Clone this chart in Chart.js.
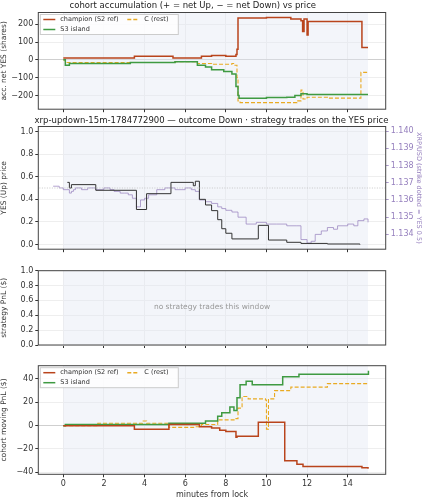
<!DOCTYPE html>
<html>
<head>
<meta charset="utf-8">
<script src="https://cdn.jsdelivr.net/npm/chart.js@4"></script>
<style>
  body { margin: 0; background: #fff; }
  .panel { position: absolute; left: 0; width: 423px; }
</style>
</head>
<body>
<div class="panel" style="top:0;height:116px"><canvas id="c1"></canvas></div>
<div class="panel" style="top:116px;height:140px"><canvas id="c2"></canvas></div>
<div class="panel" style="top:256px;height:96px"><canvas id="c3"></canvas></div>
<div class="panel" style="top:352px;height:148px"><canvas id="c4"></canvas></div>
<script>
// panel 1: accumulated net YES shares
const accChampT = [0, 3.5, 5.4, 6.8, 7.3, 8.0, 8.5, 8.55, 8.6, 10.0, 11.2, 11.7, 11.78, 11.85, 12.0, 12.05, 14.7, 15.0];
const accChampV = [10, 20, 10, 20, 25, 20, 30, 60, 235, 238, 230, 220, 160, 230, 140, 215, 70, 70];
const accS3T = [0, 0.1, 0.3, 3.3, 5.5, 6.6, 7.0, 7.3, 7.9, 8.3, 8.5, 8.6, 8.65, 10.0, 11.0, 11.4, 11.7, 12.0, 15.0];
const accS3V = [0, -30, -20, -15, -10, -30, -40, -55, -65, -80, -150, -200, -215, -212, -210, -200, -190, -195, -195];
const accCT = [0, 0.1, 3.0, 5.5, 6.6, 7.3, 8.3, 8.45, 8.55, 8.6, 8.7, 11.5, 11.7, 11.8, 12.0, 13.0, 14.6, 14.65, 15.0];
const accCV = [0, -15, -15, -10, -20, -25, -20, -30, -100, -230, -240, -230, -170, -220, -210, -215, -215, -70, -70];

// panel 2: YES price and XRP/USD
const yesT = [0.2, 0.3, 0.4, 1.6, 3.6, 4.1, 5.3, 6.4, 6.5, 6.7, 7.0, 7.3, 7.6, 7.8, 8.0, 8.3, 9.6, 10.1, 11.0, 11.7, 13.0, 14.6];
const yesV = [0.55, 0.5, 0.53, 0.48, 0.31, 0.45, 0.55, 0.52, 0.56, 0.4, 0.35, 0.3, 0.22, 0.14, 0.1, 0.05, 0.17, 0.04, 0.02, 0.01, 0.005, 0.0];
const xrpT = [-0.5, -0.2, 0, 0.3, 0.4, 0.5, 0.6, 0.9, 1.2, 1.6, 2.0, 2.3, 2.5, 2.8, 3.0, 3.2, 3.4, 3.6, 3.8, 4.0, 4.2, 4.6, 5.0, 5.5, 6.0, 6.3, 6.5, 6.7, 7.0, 7.3, 7.6, 7.8, 8.0, 8.3, 8.6, 9.0, 9.5, 10.0, 10.5, 11.0, 11.5, 11.7, 12.0, 12.2, 12.4, 12.7, 13.0, 13.3, 13.5, 14.0, 14.3, 14.5, 14.8, 15.0];
const xrpV = [1.1368, 1.1367, 1.1366, 1.1364, 1.1365, 1.1366, 1.1367, 1.1366, 1.1367, 1.1366, 1.1367, 1.1366, 1.1365, 1.1364, 1.1364, 1.1363, 1.1361, 1.1356, 1.1360, 1.1361, 1.1363, 1.1366, 1.1367, 1.1366, 1.1367, 1.1366, 1.1365, 1.1360, 1.1359, 1.1358, 1.1356, 1.1355, 1.1354, 1.1353, 1.1350, 1.1346, 1.1347, 1.1346, 1.1346, 1.1345, 1.1345, 1.1337, 1.1335, 1.1336, 1.1340, 1.1342, 1.1344, 1.1343, 1.1345, 1.1346, 1.1345, 1.1348, 1.1349, 1.1347];
const strikeYes = 0.5;

// panel 4: cohort moving PnL
const pnlChampT = [0, 3.5, 5.2, 6.7, 7.3, 7.7, 8.0, 8.5, 8.55, 9.6, 10.9, 11.5, 11.8, 14.7, 15.0];
const pnlChampV = [0, -3, 1, -1, -2, -4, -5, -10, -9, 3, -30, -33, -35, -36, -37];
const pnlS3T = [0, 0.1, 5.2, 7.0, 7.6, 7.8, 8.2, 8.4, 8.55, 8.7, 9.0, 9.3, 10.8, 11.6, 15.0, 15.02];
const pnlS3V = [0, 1, 2, 4, 8, 11, 16, 13, 24, 35, 38, 35, 42, 44, 44, 47];
const pnlCT = [0, 1.7, 3.9, 4.1, 5.2, 6.5, 6.8, 7.6, 8.5, 8.6, 8.8, 9.1, 9.95, 10.0, 10.1, 10.4, 11.2, 13.0, 15.0];
const pnlCV = [0, 2, 4, 2, -1.5, -1, 1, 5, 6, 15, 25, 23, 22, -3, 23, 30, 33, 36, 36];

const xTicks = [0, 2, 4, 6, 8, 10, 12, 14];

const RED = "#b9441c", GREEN = "#3f9a42", GOLD = "#e9aa22", PURPLE = "rgba(150,128,190,0.8)";
const FONT = "'DejaVu Sans', sans-serif";
Chart.defaults.font.family = FONT;
Chart.defaults.font.size = 8;
Chart.defaults.color = "#333";

const pts = (ts, vs) => ts.map((t, i) => ({ x: t, y: vs[i] }));
const minus = (s) => String(s).replace("-", "\u2212");

const shade = {
  id: "shade",
  beforeDatasetsDraw(chart) {
    const { ctx, chartArea: a, scales: { x } } = chart;
    ctx.save();
    ctx.fillStyle = "rgba(225,230,243,0.4)";
    ctx.fillRect(x.getPixelForValue(0), a.top, x.getPixelForValue(15) - x.getPixelForValue(0), a.bottom - a.top);
    ctx.restore();
  },
  afterDraw(chart) {
    const { ctx, chartArea: a } = chart;
    ctx.save();
    ctx.strokeStyle = "#444";
    ctx.lineWidth = 1;
    ctx.strokeRect(a.left, a.top, a.right - a.left, a.bottom - a.top);
    ctx.restore();
  },
};

const legendBox = {
  id: "legendBox",
  afterDraw(chart) {
    if (!chart.options.plugins.legendBox) return;
    const { ctx, chartArea: a } = chart;
    const items = [
      ["champion (S2 ref)", RED, [], 0, 0],
      ["C (rest)", GOLD, [4, 2], 84, 0],
      ["S3 island", GREEN, [], 0, 10],
    ];
    ctx.save();
    ctx.fillStyle = "rgba(255,255,255,0.8)";
    ctx.strokeStyle = "#ccc";
    ctx.fillRect(a.left + 2, a.top + 2, 138, 20);
    ctx.strokeRect(a.left + 2, a.top + 2, 138, 20);
    ctx.font = "6.5px " + FONT;
    ctx.textBaseline = "middle";
    items.forEach(([label, color, dash, dx, dy]) => {
      const x0 = a.left + 5 + dx, y0 = a.top + 7 + dy;
      ctx.strokeStyle = color;
      ctx.lineWidth = 1.5;
      ctx.setLineDash(dash);
      ctx.beginPath();
      ctx.moveTo(x0, y0);
      ctx.lineTo(x0 + 12, y0);
      ctx.stroke();
      ctx.setLineDash([]);
      ctx.fillStyle = "#333";
      ctx.fillText(label, x0 + 17, y0);
    });
    ctx.restore();
  },
};

const noTrades = {
  id: "noTrades",
  afterDraw(chart) {
    if (!chart.options.plugins.noTrades) return;
    const { ctx, chartArea: a } = chart;
    ctx.save();
    ctx.fillStyle = "#999";
    ctx.font = "7.5px " + FONT;
    ctx.textAlign = "center";
    ctx.textBaseline = "middle";
    ctx.fillText("no strategy trades this window", (a.left + a.right) / 2, a.top + (a.bottom - a.top) * 0.49);
    ctx.restore();
  },
};

function line(data, color, width, dash) {
  return {
    data: data, borderColor: color, borderWidth: width, borderDash: dash || [],
    stepped: true, pointRadius: 0, fill: false, yAxisID: "y",
  };
}

function xScale(showLabels, height, title) {
  return {
    type: "linear", min: -1.23, max: 15.87,
    afterBuildTicks: (s) => { s.ticks = xTicks.map((v) => ({ value: v })); },
    afterFit: (s) => { s.height = height; },
    grid: { color: "#eee", tickColor: "#333", tickLength: 3, drawTicks: true },
    border: { display: false },
    ticks: { display: showLabels, padding: 2, callback: (v) => v },
    title: title ? { display: true, text: title, font: { size: 8 }, padding: 0 } : { display: false },
  };
}

function yScale(min, max, step, title, fmt) {
  return {
    type: "linear", min: min, max: max,
    afterBuildTicks: (s) => {
      const t = [];
      for (let v = Math.ceil(min / step) * step; v <= max + 1e-9; v += step) t.push({ value: +v.toFixed(6) });
      s.ticks = t;
    },
    afterFit: (s) => { s.width = 38.3; },
    grid: { color: (c) => (c.tick && c.tick.value === 0 && fmt !== "f1" ? "#cfcfcf" : "#eee"), tickColor: "#333", tickLength: 3 },
    border: { display: false },
    ticks: { padding: 2, callback: (v) => minus(fmt === "f1" ? v.toFixed(1) : v) },
    title: { display: true, text: title, font: { size: 7.5 }, padding: 0 },
  };
}

const base = (padTop, padRight) => ({
  responsive: true, maintainAspectRatio: false, animation: false,
  layout: { padding: { top: padTop, right: padRight, left: 0, bottom: 0 } },
});

// panel 1
new Chart(document.getElementById("c1"), {
  type: "line",
  data: { datasets: [
    line(pts(accChampT, accChampV), RED, 1.5),
    line(pts(accS3T, accS3V), GREEN, 1.5),
    line(pts(accCT, accCV), GOLD, 1.1, [4, 2]),
  ] },
  options: {
    ...base(0, 37.3),
    plugins: {
      legend: { display: false }, tooltip: { enabled: false }, legendBox: true,
      title: { display: true, text: "cohort accumulation (+ = net Up, \u2212 = net Down) vs price", font: { size: 8.5, weight: "normal" }, padding: { top: 1, bottom: 1.3 }, color: "#222" },
    },
    scales: { x: xScale(false, 6.7), y: yScale(-277, 266, 100, "acc. net YES (shares)") },
  },
  plugins: [shade, legendBox],
});

// panel 2
new Chart(document.getElementById("c2"), {
  type: "line",
  data: { datasets: [
    { data: [{ x: -1.3, y: strikeYes }, { x: 16, y: strikeYes }], borderColor: "#bbb", borderWidth: 0.8, borderDash: [1, 1.5], pointRadius: 0, yAxisID: "y" },
    line(pts(yesT, yesV), "#333", 1),
    { ...line(pts(xrpT, xrpV), PURPLE, 0.9), yAxisID: "y2" },
  ] },
  options: {
    ...base(0, 0),
    plugins: {
      legend: { display: false }, tooltip: { enabled: false },
      title: { display: true, text: "xrp-updown-15m-1784772900 \u2014 outcome Down \u00b7 strategy trades on the YES price", font: { size: 8.5, weight: "normal" }, padding: { top: 0, bottom: 0.3 }, color: "#222" },
    },
    scales: {
      x: xScale(false, 5.3),
      y: yScale(-0.041, 1.044, 0.2, "YES (Up) price", "f1"),
      y2: {
        type: "linear", position: "right", min: 1.13314, max: 1.14027,
        afterBuildTicks: (s) => { s.ticks = [1.134, 1.135, 1.136, 1.137, 1.138, 1.139, 1.14].map((v) => ({ value: v })); },
        afterFit: (s) => { s.width = 37.3; },
        grid: { drawOnChartArea: false, tickColor: PURPLE, tickLength: 3 },
        border: { display: false },
        ticks: { color: "rgb(150,128,190)", padding: 2, callback: (v) => v.toFixed(3) },
        title: { display: true, text: "XRP/USD (strike dotted = YES 0.5)", color: "rgb(150,128,190)", font: { size: 6.5 }, padding: 0 },
      },
    },
  },
  plugins: [shade],
});

// panel 3
new Chart(document.getElementById("c3"), {
  type: "line",
  data: { datasets: [] },
  options: {
    ...base(14.7, 37.3),
    plugins: { legend: { display: false }, tooltip: { enabled: false }, noTrades: true },
    scales: { x: xScale(false, 7), y: yScale(0, 1, 0.2, "strategy PnL ($)", "f1") },
  },
  plugins: [shade, noTrades],
});

// panel 4
new Chart(document.getElementById("c4"), {
  type: "line",
  data: { datasets: [
    line(pts(pnlChampT, pnlChampV), RED, 1.5),
    line(pts(pnlS3T, pnlS3V), GREEN, 1.5),
    line(pts(pnlCT, pnlCV), GOLD, 1.1, [4, 2]),
  ] },
  options: {
    ...base(13.7, 37.3),
    plugins: { legend: { display: false }, tooltip: { enabled: false }, legendBox: true },
    scales: { x: xScale(true, 25.7, "minutes from lock"), y: yScale(-41.7, 51.4, 20, "cohort moving PnL ($)") },
  },
  plugins: [shade, legendBox],
});
</script>
</body>
</html>
